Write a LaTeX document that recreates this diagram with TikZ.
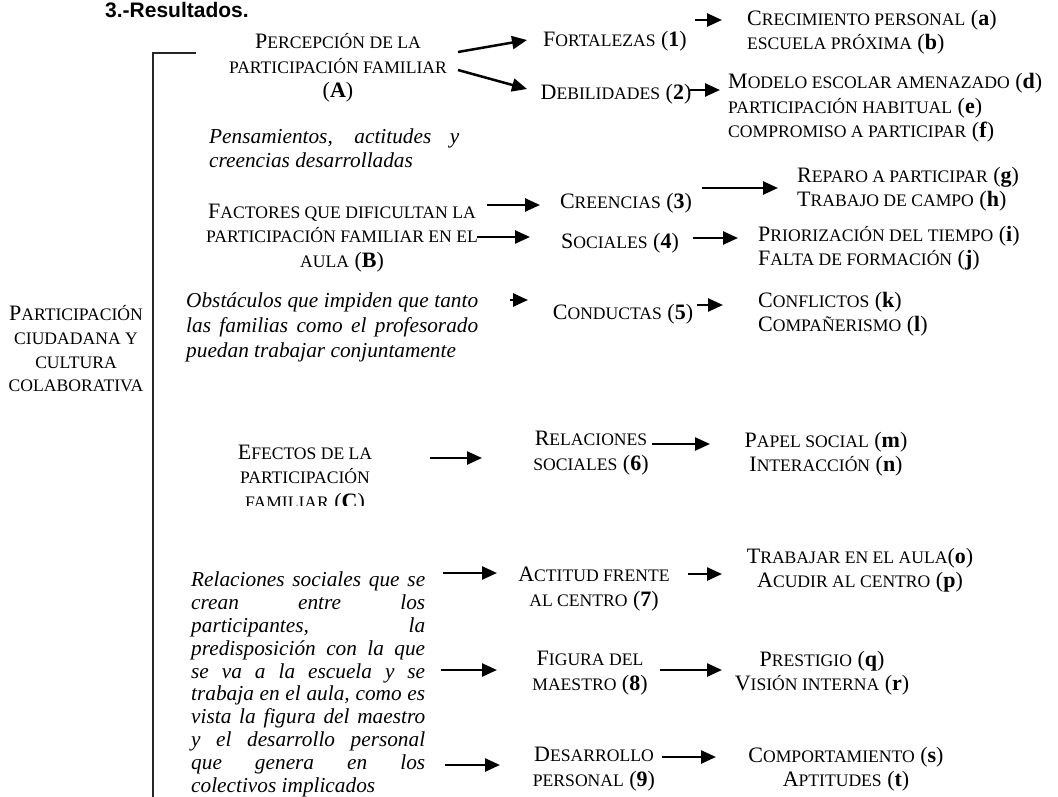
\documentclass[tikz,border=0pt]{standalone}
\usepackage{fontspec}
\setmainfont{Liberation Serif}
\newfontfamily\arialfont{Liberation Sans}
\usetikzlibrary{arrows.meta}
\newcommand{\sk}[1]{{\fontsize{17.6}{24.3}\selectfont #1}}
\newcommand{\nohyph}{\hyphenpenalty 10000\relax\tolerance 10000\relax}
\tikzset{
  lab/.style={align=center, inner sep=0pt, font=\fontsize{22}{24.3}\selectfont},
  labl/.style={align=left, inner sep=0pt, font=\fontsize{22}{24.3}\selectfont},
  itx/.style={inner sep=0pt, anchor=north west, align=justify, font=\fontsize{21.3}{#1}\selectfont\itshape\nohyph},
  itx/.default=22.8,
  arr/.style={-{Triangle[length=15pt,width=13pt]}, line width=2.5pt},
  brk/.style={line width=1.4pt, draw=black!85}
}
\begin{document}
\begin{tikzpicture}[x=1pt,y=-1pt]
\useasboundingbox[fill=white] (0,0) rectangle (1058,797);
% title
\node[anchor=base west, inner sep=0pt, font=\arialfont\bfseries\fontsize{21}{24}\selectfont] (title) at (105,18) {3.-Resultados.};
% bracket
\coordinate (bt) at (196,53);
\coordinate (bc) at (153,53);
\coordinate (bb) at (153,800);
\draw[brk] (bt) -- (bc) -- (bb);
% left label
\node[lab, font=\fontsize{22}{23.7}\selectfont] (main) at (76,349) {P\sk{ARTICIPACIÓN}\\ \sk{CIUDADANA Y}\\ \sk{CULTURA}\\ \sk{COLABORATIVA}};
% A
\node[lab] (A) at (338,68) {P\sk{ERCEPCIÓN DE LA}\\ \sk{PARTICIPACIÓN FAMILIAR}\\ (\textbf{A})};
\node[lab] (n1) at (615,41) {F\sk{ORTALEZAS} (\textbf{1})};
\node[lab] (n2) at (616,94) {D\sk{EBILIDADES} (\textbf{2})};
\node[labl, anchor=west] (ab) at (747,32) {C\sk{RECIMIENTO PERSONAL} (\textbf{a})\\ \sk{ESCUELA PRÓXIMA} (\textbf{b})};
\node[labl, anchor=west] (def) at (728,108) {M\sk{ODELO ESCOLAR AMENAZADO} (\textbf{d})\\ \sk{PARTICIPACIÓN HABITUAL} (\textbf{e})\\ \sk{COMPROMISO A PARTICIPAR} (\textbf{f})};
\node[itx=24, text width=250pt] (pens) at (209,129) {Pensamientos, actitudes y\linebreak creencias desarrolladas};
% B
\node[lab] (B) at (342,238) {F\sk{ACTORES QUE DIFICULTAN LA}\\ \sk{PARTICIPACIÓN FAMILIAR EN EL}\\ \sk{AULA} (\textbf{B})};
\node[lab] (n3) at (626,203) {C\sk{REENCIAS} (\textbf{3})};
\node[lab] (n4) at (620,243) {S\sk{OCIALES} (\textbf{4})};
\node[labl, anchor=west] (gh) at (797,189) {R\sk{EPARO A PARTICIPAR} (\textbf{g})\\ T\sk{RABAJO DE CAMPO} (\textbf{h})};
\node[labl, anchor=west] (ij) at (758,248) {P\sk{RIORIZACIÓN DEL TIEMPO} (\textbf{i})\\ F\sk{ALTA DE FORMACIÓN} (\textbf{j})};
\node[itx=25, text width=292pt] (obst) at (186,292) {Obstáculos que impiden que tanto\linebreak las familias como el profesorado\linebreak puedan trabajar conjuntamente};
\node[lab] (n5) at (623,314) {C\sk{ONDUCTAS} (\textbf{5})};
\node[labl, anchor=west] (kl) at (758,314) {C\sk{ONFLICTOS} (\textbf{k})\\ C\sk{OMPAÑERISMO} (\textbf{l})};
% C
\begin{scope}
\clip (200,420) rectangle (420,505);
\node[lab] (C) at (305,479) {E\sk{FECTOS DE LA}\\ \sk{PARTICIPACIÓN}\\ \sk{FAMILIAR} (\textbf{C})};
\end{scope}
\node[lab] (n6) at (591,453) {R\sk{ELACIONES}\\ \sk{SOCIALES} (\textbf{6})};
\node[lab] (mn) at (826,454) {P\sk{APEL SOCIAL} (\textbf{m})\\ I\sk{NTERACCIÓN} (\textbf{n})};
\node[itx, text width=234pt] (rel) at (191,572) {Relaciones sociales que se\linebreak crean entre los\linebreak participantes, la\linebreak predisposición con la que\linebreak se va a la escuela y se\linebreak trabaja en el aula, como es\linebreak vista la figura del maestro\linebreak y el desarrollo personal\linebreak que genera en los\linebreak colectivos implicados};
\node[lab] (n7) at (594,589) {A\sk{CTITUD FRENTE}\\ \sk{AL CENTRO} (\textbf{7})};
\node[lab] (op) at (860,570) {T\sk{RABAJAR EN EL AULA}(\textbf{o})\\ A\sk{CUDIR AL CENTRO} (\textbf{p})};
\node[lab] (n8) at (590,673) {F\sk{IGURA DEL}\\ \sk{MAESTRO} (\textbf{8})};
\node[lab] (qr) at (822,673) {P\sk{RESTIGIO} (\textbf{q})\\ V\sk{ISIÓN INTERNA} (\textbf{r})};
\node[lab] (n9) at (594,769) {D\sk{ESARROLLO}\\ \sk{PERSONAL} (\textbf{9})};
\node[lab] (st) at (846,769) {C\sk{OMPORTAMIENTO} (\textbf{s})\\ A\sk{PTITUDES} (\textbf{t})};
% arrow ends
\coordinate (a1s) at (458,52);  \coordinate (a1e) at (527,40);
\coordinate (a2s) at (458,70);  \coordinate (a2e) at (527,89);
\coordinate (a3s) at (695,20);  \coordinate (a3e) at (722,20);
\coordinate (a4s) at (690,90);  \coordinate (a4e) at (720,90);
\coordinate (a5s) at (487,205); \coordinate (a5e) at (540,205);
\coordinate (a6s) at (477,237); \coordinate (a6e) at (530,237);
\coordinate (a7s) at (702,188); \coordinate (a7e) at (778,188);
\coordinate (a8s) at (693,238); \coordinate (a8e) at (738,238);
\coordinate (a9s) at (510,300); \coordinate (a9e) at (528,300);
\coordinate (a10s) at (697,305); \coordinate (a10e) at (723,305);
\coordinate (a11s) at (430,458); \coordinate (a11e) at (482,458);
\coordinate (a12s) at (652,444); \coordinate (a12e) at (710,444);
\coordinate (a13s) at (443,573); \coordinate (a13e) at (497,573);
\coordinate (a14s) at (688,574); \coordinate (a14e) at (722,574);
\coordinate (a15s) at (441,670); \coordinate (a15e) at (497,670);
\coordinate (a16s) at (660,670); \coordinate (a16e) at (722,670);
\coordinate (a17s) at (445,765); \coordinate (a17e) at (500,765);
\coordinate (a18s) at (662,757); \coordinate (a18e) at (716,757);
\foreach \i in {1,...,18} {\draw[arr] (a\i s) -- (a\i e);}
\end{tikzpicture}
\end{document}
